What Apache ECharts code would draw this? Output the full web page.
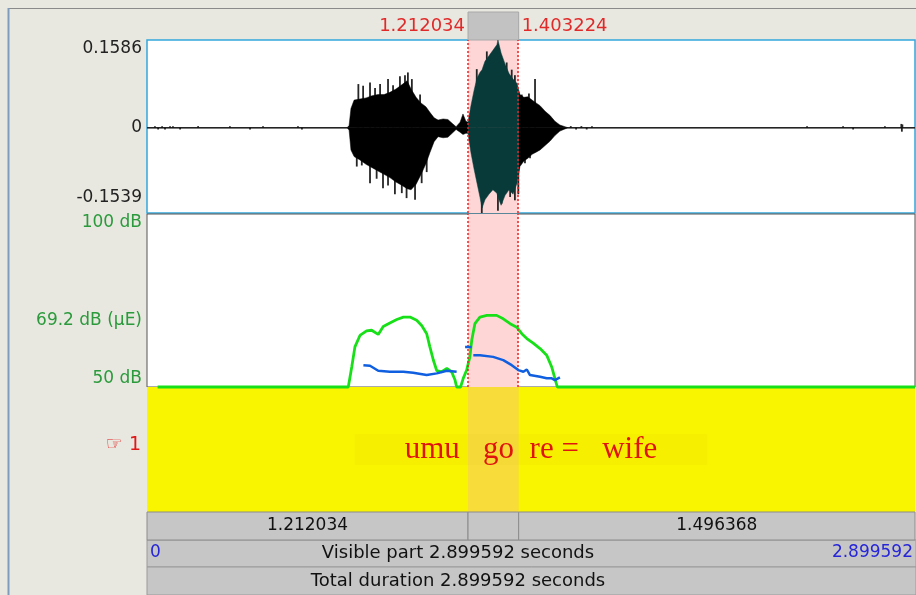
<!DOCTYPE html>
<html>
<head>
<meta charset="utf-8">
<script src="https://cdn.jsdelivr.net/npm/echarts@6/dist/echarts.min.js"></script>
<style>
html, body { margin: 0; padding: 0; background: #e9e8e0; }
#main { width: 916px; height: 595px; }
</style>
</head>
<body>
<div id="main"></div>
<script>
// time axis, seconds
var totalDur = 2.899592;
var selStart = 1.212034;
var selEnd = 1.403224;

// waveform: solid core envelope (time, upper, lower) ...
var wavTop = 0.1586;
var wavBottom = -0.1539;
var wavT = [0, 0.755, 0.763, 0.770, 0.782, 0.804, 0.827, 0.850, 0.872, 0.895, 0.917, 0.940, 0.963, 0.982,
  0.997, 1.016, 1.034, 1.053, 1.068, 1.084, 1.099, 1.118, 1.136, 1.152, 1.167, 1.182, 1.193, 1.204,
  1.212, 1.223, 1.235, 1.246, 1.257, 1.265, 1.276, 1.291, 1.306, 1.321, 1.325, 1.337, 1.352, 1.367, 1.382, 1.397,
  1.408, 1.423, 1.438, 1.454, 1.469, 1.484, 1.503, 1.522, 1.540, 1.559, 1.578, 1.590, 2.899592];
var wavMax = [0, 0, 0.004, 0.035, 0.050, 0.052, 0.054, 0.058, 0.060, 0.060, 0.064, 0.070, 0.078, 0.085,
  0.070, 0.055, 0.045, 0.038, 0.028, 0.018, 0.014, 0.016, 0.015, 0.008, 0.002, 0.010, 0.025, 0.012,
  0.010, 0.040, 0.068, 0.090, 0.100, 0.105, 0.120, 0.130, 0.140, 0.150, 0.1586, 0.135, 0.115, 0.098, 0.088, 0.080,
  0.060, 0.055, 0.056, 0.050, 0.045, 0.040, 0.030, 0.022, 0.012, 0.005, 0.002, 0, 0];
var wavMin = [0, 0, -0.004, -0.040, -0.052, -0.058, -0.066, -0.072, -0.078, -0.084, -0.090, -0.098, -0.104, -0.110,
  -0.112, -0.102, -0.085, -0.065, -0.045, -0.025, -0.016, -0.018, -0.017, -0.010, -0.003, -0.008, -0.012, -0.010,
  -0.010, -0.045, -0.075, -0.100, -0.125, -0.145, -0.130, -0.120, -0.112, -0.118, -0.125, -0.140, -0.122, -0.112, -0.120, -0.100,
  -0.070, -0.060, -0.055, -0.048, -0.044, -0.040, -0.032, -0.024, -0.014, -0.006, -0.002, 0, 0];
// ... and the thin peaks that stick out of it
var spikeT = [0.030, 0.042, 0.057, 0.068, 0.087, 0.098, 0.125, 0.193, 0.313, 0.389, 0.438, 0.570, 0.585,
  0.798, 0.816, 0.842, 0.861, 0.880, 0.910, 0.929, 0.955, 0.974, 0.985, 1.000, 1.031,
  0.792, 0.811, 0.842, 0.867, 0.891, 0.910, 0.936, 0.962, 0.980, 1.012, 1.037, 1.056,
  1.245, 1.283, 1.358, 1.377, 1.389, 1.415, 1.442, 1.465,
  1.264, 1.325, 1.339, 1.371, 1.389, 1.402, 1.427, 1.446,
  1.600, 1.620, 1.640, 1.660, 1.680,
  2.492, 2.628, 2.666, 2.786, 2.848, 2.850, 2.852];
var spikeV = [0.003, -0.003, 0.003, -0.003, 0.003, 0.003, -0.003, 0.003, 0.003, -0.003, 0.003, 0.003, -0.003,
  0.079, 0.076, 0.082, 0.072, 0.079, 0.088, 0.077, 0.093, 0.095, 0.100, 0.088, 0.060,
  -0.070, -0.068, -0.100, -0.092, -0.109, -0.104, -0.120, -0.118, -0.127, -0.130, -0.100, -0.080,
  0.106, 0.138, 0.118, 0.105, 0.095, 0.060, 0.062, 0.088,
  -0.1539, -0.150, -0.137, -0.125, -0.131, -0.120, -0.064, -0.055,
  0.003, -0.003, 0.003, -0.003, 0.003,
  0.003, 0.003, -0.003, 0.003, 0.007, -0.007, 0.006];

// intensity, dB
var dbTicks = [50, 69.2, 100];
var intT = [0.040, 0.760, 0.773, 0.785, 0.804, 0.829, 0.848, 0.873, 0.892, 0.917, 0.943, 0.968, 0.993, 1.018,
  1.037, 1.056, 1.068, 1.081, 1.094, 1.113, 1.132, 1.150, 1.163, 1.169, 1.184, 1.194, 1.207, 1.219, 1.226,
  1.238, 1.257, 1.283, 1.320, 1.345, 1.371, 1.396, 1.415, 1.434, 1.458, 1.484, 1.509, 1.528, 1.540, 1.549, 2.899592];
var intDb = [50, 50, 55.8, 61.6, 64.9, 66.2, 66.4, 65.2, 67.5, 68.5, 69.5, 70.2, 70.2, 69.3,
  67.8, 65.4, 61.6, 57.8, 54.7, 54.4, 55.4, 54.4, 52, 50, 50, 52.5, 54.9, 58.7, 63.5,
  68.3, 70.2, 70.7, 70.7, 69.7, 68.3, 67.3, 65.4, 64, 62.7, 61.1, 59.2, 55.8, 52.5, 50, 50];

// pitch, Hz (blue, no axis shown)
var pitchT = [0.817, 0.842, 0.873, 0.917, 0.968, 1.005, 1.056, 1.094, 1.132, 1.169, 1.185, 1.201, 1.226, 1.229,
  1.232, 1.257, 1.307, 1.345, 1.377, 1.402, 1.421, 1.434, 1.446, 1.484, 1.509, 1.528, 1.540, 1.559];
var pitchHz = [128.7, 127.1, 114.8, 112.4, 112.4, 109.9, 104.3, 108.5, 114.8, 112.4, null, 173.4, 173.4, null,
  153, 153, 149, 141, 128.7, 116.5, 112.4, 118, 104.3, 100, 96.3, 96.3, 92.1, 98.7];

// text tier and duration bar
var tierIntervals = [[0, totalDur, 'umu   go  re =   wife']];
var segBounds = [0, selStart, selEnd, totalDur];

var uiFont = 'DejaVu Sans';
var chart = echarts.init(document.getElementById('main'));

function zip(a, b) {
  return a.map(function (v, i) { return [v, b[i]]; });
}

var segData = [];
for (var i = 0; i < segBounds.length - 1; i++) segData.push([segBounds[i], segBounds[i + 1]]);

function renderSpike(params, api) {
  var p0 = api.coord([api.value(0), 0]);
  var p1 = api.coord([api.value(0), api.value(1)]);
  return {
    type: 'line',
    shape: { x1: p0[0], y1: p0[1], x2: p1[0], y2: p1[1] },
    style: { stroke: '#262626', lineWidth: 1.8 }
  };
}

function renderTier(params, api) {
  var a = api.coord([api.value(0), 0.5]);
  var b = api.coord([api.value(1), 0.5]);
  return {
    type: 'text',
    style: {
      text: tierIntervals[params.dataIndex][2],
      x: (a[0] + b[0]) / 2, y: a[1],
      align: 'center', verticalAlign: 'middle',
      fill: '#e0140f', font: '31px "Liberation Serif"',
      backgroundColor: 'rgba(200,170,0,0.05)', padding: [0, 50]
    }
  };
}

function renderSeg(params, api) {
  var cs = params.coordSys;
  var x0 = api.coord([api.value(0), 0])[0];
  var x1 = api.coord([api.value(1), 0])[0];
  var kids = [{
    type: 'rect',
    shape: { x: x0, y: cs.y, width: x1 - x0, height: cs.height },
    style: { fill: '#c6c6c6', stroke: '#8c8c8c', lineWidth: 1 }
  }];
  if (x1 - x0 > 90) {
    kids.push({
      type: 'text',
      style: {
        text: (api.value(1) - api.value(0)).toFixed(6),
        x: (x0 + x1) / 2, y: cs.y + cs.height / 2,
        align: 'center', verticalAlign: 'middle',
        fill: '#111', font: '17px "' + uiFont + '"'
      }
    });
  }
  return { type: 'group', children: kids };
}

function renderSel(params, api) {
  var cs = params.coordSys;
  var x0 = api.coord([api.value(0), 0])[0];
  var x1 = api.coord([api.value(1), 0])[0];
  var red = '#e02a2a';
  return {
    type: 'group',
    children: [
      { type: 'rect', shape: { x: x0, y: cs.y, width: x1 - x0, height: cs.height },
        style: { fill: '#c2c2c2', stroke: '#a8a8a8', lineWidth: 1 } },
      { type: 'text', style: { text: api.value(0).toFixed(6), x: x0 - 3, y: cs.y + cs.height / 2,
        align: 'right', verticalAlign: 'middle', fill: red, font: '18px "' + uiFont + '"' } },
      { type: 'text', style: { text: api.value(1).toFixed(6), x: x1 + 3, y: cs.y + cs.height / 2,
        align: 'left', verticalAlign: 'middle', fill: red, font: '18px "' + uiFont + '"' } }
    ]
  };
}

var hiddenX = function (g) {
  return { type: 'value', gridIndex: g, min: 0, max: totalDur, show: false };
};
var unitY = function (g) {
  return { type: 'value', gridIndex: g, min: 0, max: 1, show: false };
};
var selArea = function (color) {
  return { silent: true, itemStyle: { color: color }, data: [[{ xAxis: selStart }, { xAxis: selEnd }]] };
};
var selLines = {
  silent: true, symbol: ['none', 'none'], label: { show: false },
  lineStyle: { color: '#e22', type: [2, 2], width: 1.5 },
  data: [{ xAxis: selStart }, { xAxis: selEnd }]
};
var envelope = function (vals) {
  return {
    type: 'line', xAxisIndex: 0, yAxisIndex: 0, data: zip(wavT, vals), z: 4,
    symbol: 'none', silent: true, lineStyle: { width: 0.5 },
    areaStyle: { origin: 0, opacity: 1 }
  };
};

var option = {
  backgroundColor: '#e9e8e0',
  animation: false,
  visualMap: {
    show: false, type: 'piecewise', dimension: 0, seriesIndex: [3, 4],
    pieces: [
      { lt: selStart, color: '#000' },
      { gte: selStart, lte: selEnd, color: '#083a3a' },
      { gt: selEnd, color: '#000' }
    ]
  },
  grid: [
    { left: 147, top: 40, width: 768, height: 173, show: true, backgroundColor: '#fff', borderColor: '#33a6dc', borderWidth: 1.5 },
    { left: 147, top: 214, width: 768, height: 173, show: true, backgroundColor: '#fff', borderColor: '#555', borderWidth: 1 },
    { left: 147, top: 387, width: 768, height: 125, show: true, backgroundColor: '#f9f400', borderWidth: 0 },
    { left: 147, top: 512, width: 768, height: 28 },
    { left: 147, top: 12, width: 768, height: 28 }
  ],
  xAxis: [hiddenX(0), hiddenX(1), hiddenX(2), hiddenX(3), hiddenX(4)],
  yAxis: [
    {
      type: 'value', gridIndex: 0, min: wavBottom, max: wavTop,
      axisLine: { show: false }, axisTick: { show: false }, splitLine: { show: false },
      axisLabel: {
        customValues: [wavBottom, 0, wavTop],
        formatter: function (v) { return v === 0 ? '0' : v < 0 ? '{lo|' + v.toFixed(4) + '}' : v.toFixed(4); },
        rich: { lo: { fontFamily: uiFont, fontSize: 17, color: '#222', padding: [0, 0, 7, 0] } },
        color: '#222', fontFamily: uiFont, fontSize: 17, margin: 5,
        verticalAlignMinLabel: 'bottom', verticalAlignMaxLabel: 'top'
      }
    },
    {
      type: 'value', gridIndex: 1, min: 50, max: 100,
      axisLine: { show: false }, axisTick: { show: false }, splitLine: { show: false },
      axisLabel: {
        customValues: dbTicks,
        formatter: function (v) { return v === 69.2 ? '69.2 dB (\u03bcE)' : v + ' dB'; },
        color: '#2a9a3c', fontFamily: uiFont, fontSize: 17, margin: 5,
        verticalAlignMinLabel: 'bottom', verticalAlignMaxLabel: 'top'
      }
    },
    { type: 'value', gridIndex: 1, min: 75, max: 500, show: false },
    unitY(2), unitY(3), unitY(4)
  ],
  series: [
    // selection band behind the waveform
    { type: 'line', xAxisIndex: 0, yAxisIndex: 0, data: [], z: 1, markArea: selArea('#ffd6d6') },
    {
      type: 'line', xAxisIndex: 0, yAxisIndex: 0, data: [[0, 0], [totalDur, 0]], z: 2,
      symbol: 'none', silent: true, lineStyle: { color: '#555', width: 1.5 }
    },
    { type: 'custom', xAxisIndex: 0, yAxisIndex: 0, data: zip(spikeT, spikeV), z: 3, silent: true,
      encode: { x: 0, y: 1 }, renderItem: renderSpike },
    envelope(wavMax),
    envelope(wavMin),
    { type: 'line', xAxisIndex: 0, yAxisIndex: 0, data: [], z: 10, markLine: selLines },

    // intensity panel
    { type: 'line', xAxisIndex: 1, yAxisIndex: 1, data: [], z: 1, markArea: selArea('#ffd6d6') },
    {
      type: 'line', xAxisIndex: 1, yAxisIndex: 1, data: zip(intT, intDb), z: 4, clip: false,
      symbol: 'none', silent: true, lineStyle: { color: '#18e018', width: 2.8 }
    },
    {
      type: 'line', xAxisIndex: 1, yAxisIndex: 2, data: zip(pitchT, pitchHz), z: 5,
      symbol: 'none', silent: true, connectNulls: false, lineStyle: { color: '#0f5fe0', width: 2.5 }
    },
    { type: 'line', xAxisIndex: 1, yAxisIndex: 1, data: [], z: 10, markLine: selLines },

    // text tier
    { type: 'line', xAxisIndex: 2, yAxisIndex: 3, data: [], z: 1, markArea: selArea('#f8dc3a') },
    { type: 'custom', xAxisIndex: 2, yAxisIndex: 3, data: tierIntervals, z: 4, silent: true,
      encode: { x: [0, 1] }, renderItem: renderTier },

    // duration bar and selection box
    { type: 'custom', xAxisIndex: 3, yAxisIndex: 4, data: segData, silent: true,
      encode: { x: [0, 1] }, renderItem: renderSeg },
    { type: 'custom', xAxisIndex: 4, yAxisIndex: 5, data: [[selStart, selEnd]], silent: true,
      encode: { x: [0, 1] }, renderItem: renderSel }
  ],
  graphic: [
    { type: 'line', shape: { x1: 8, y1: 8.5, x2: 916, y2: 8.5 }, style: { stroke: '#8a8a8a', lineWidth: 1 } },
    { type: 'line', shape: { x1: 8.5, y1: 8, x2: 8.5, y2: 595 }, style: { stroke: '#7d9cbd', lineWidth: 2 } },
    { type: 'text', right: 916 - 141, top: 436, style: { text: '\u261e 1', fill: '#e01818', font: '19px "' + uiFont + '"' } },
    { type: 'rect', shape: { x: 147, y: 540, width: 769, height: 27 }, style: { fill: '#c6c6c6', stroke: '#9a9a9a' } },
    { type: 'text', left: 150, top: 544, style: { text: '0', fill: '#2626d8', font: '17px "' + uiFont + '"' } },
    { type: 'text', left: 'center', top: 544, style: { text: 'Visible part ' + totalDur.toFixed(6) + ' seconds', fill: '#111', font: '18px "' + uiFont + '"' } },
    { type: 'text', right: 3, top: 544, style: { text: totalDur.toFixed(6), fill: '#2626d8', font: '17px "' + uiFont + '"' } },
    { type: 'rect', shape: { x: 147, y: 567, width: 769, height: 28 }, style: { fill: '#c6c6c6', stroke: '#9a9a9a' } },
    { type: 'text', left: 'center', top: 572, style: { text: 'Total duration ' + totalDur.toFixed(6) + ' seconds', fill: '#111', font: '18px "' + uiFont + '"' } }
  ]
};

chart.setOption(option);
</script>
</body>
</html>
